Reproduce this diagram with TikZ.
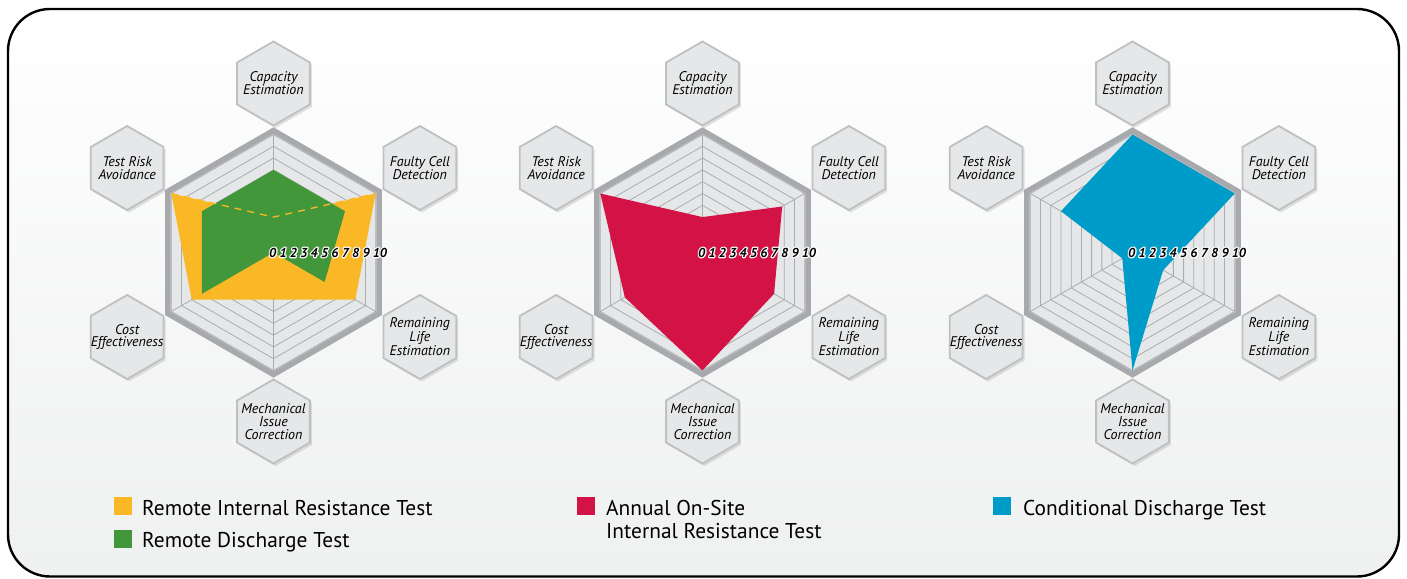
\documentclass[tikz,border=0pt]{standalone}
\usepackage{fontspec}
\setmainfont{PT Sans}
\usetikzlibrary{calc, positioning, shapes.geometric, shadows}
\definecolor{rirOrange}{RGB}{251,184,38}
\definecolor{rdGreen}{RGB}{67,151,59}
\definecolor{annRed}{RGB}{211,18,69}
\definecolor{cdBlue}{RGB}{0,156,201}
\definecolor{gridFill}{RGB}{230,231,232}
\definecolor{gridLine}{RGB}{170,172,175}
\definecolor{rimGray}{RGB}{167,169,172}
\definecolor{hexEdge}{RGB}{190,192,194}
\definecolor{panelBot}{RGB}{239,240,240}
\tikzset{
    gridRing/.style={draw=gridLine, line width=0.8pt},
    rimLine/.style={draw=rimGray, line width=5.5pt, line join=miter},
    labelHex/.style={regular polygon, regular polygon sides=6, shape border rotate=30, minimum size=84pt, inner sep=0pt, fill=gridFill, draw=hexEdge, line width=1.8pt, drop shadow={shadow xshift=2pt, shadow yshift=-2.5pt, opacity=0.22}},
    labelText/.style={inner sep=0pt, align=center, font=\fontsize{14}{12.8}\selectfont\itshape},
    scaleNum/.style={anchor=west, inner sep=0pt, font=\fontsize{13}{13}\selectfont\bfseries\itshape},
    legendBox/.style={anchor=north west, minimum size=18pt, inner sep=0pt},
    legendText/.style={anchor=base west, inner sep=0pt, font=\fontsize{21.4}{23}\selectfont},
    hiddenEdge/.style={draw=rirOrange, line width=1.3pt, dash pattern=on 7pt off 6pt},
}
\newcommand{\drawRadar}[1]{
    \begin{scope}[shift={(#1)}]
        \fill[gridFill] (90:122) -- (30:122) -- (-30:122) -- (-90:122) -- (210:122) -- (150:122) -- cycle;
        \foreach \r in {1,...,10}
            \draw[gridRing] (90:{\r*11.8}) -- (30:{\r*11.8}) -- (-30:{\r*11.8}) -- (-90:{\r*11.8}) -- (210:{\r*11.8}) -- (150:{\r*11.8}) -- cycle;
        \foreach \a in {90,30,-30,-90,210,150}
            \draw[gridRing] (0,0) -- (\a:118);
    \end{scope}
}
\newcommand{\drawScore}[8][]{
    \fill[#1, shift={(#2)}] (90:{#3*11.8}) -- (30:{#4*11.8}) -- (-30:{#5*11.8}) -- (-90:{#6*11.8}) -- (210:{#7*11.8}) -- (150:{#8*11.8}) -- cycle;
}
\newcommand{\scaleRow}{\foreach \k in {0,...,9}{\makebox[10.37pt][l]{\k}}10}
\newcommand{\drawRim}[1]{
    \draw[rimLine, shift={(#1)}] (90:122) -- (30:122) -- (-30:122) -- (-90:122) -- (210:122) -- (150:122) -- cycle;
    % white halo under the scale digits
    \node[scaleNum, text=white] (#1halo) at ($(#1)+(-4.5,0)$) {\special{pdf:literal direct 1 Tr 2.4 w 1 j}\scaleRow\special{pdf:literal direct 0 Tr}};
    \node[scaleNum] (#1scale) at ($(#1)+(-4.5,0)$) {\scaleRow};
}
\newcommand{\labelNode}[4]{
    \node[labelHex] (#1) at ($(#2)+(#3:169)$) {};
    \node[labelText] (#1txt) at (#1) {#4};
}
\newcommand{\labelSet}[2]{
    \labelNode{cap#2}{#1}{90}{Capacity\\Estimation}
    \labelNode{cell#2}{#1}{30}{Faulty Cell\\Detection}
    \labelNode{life#2}{#1}{-30}{Remaining\\Life\\Estimation}
    \labelNode{mech#2}{#1}{-90}{Mechanical\\Issue\\Correction}
    \labelNode{cost#2}{#1}{210}{Cost\\Effectiveness}
    \labelNode{risk#2}{#1}{150}{Test Risk\\Avoidance}
}
\begin{document}
\begin{tikzpicture}[x=1pt, y=1pt]
    \useasboundingbox (0,0) rectangle (1407,578);

    % panel
    \shade[top color=white, bottom color=panelBot, rounded corners=42pt] (8,1.5) rectangle (1399,569);
    \draw[line width=2.4pt, rounded corners=42pt] (8,1.5) rectangle (1399,569);

    \coordinate (rA) at (273.5,325.5);
    \coordinate (rB) at (702.5,325.5);
    \coordinate (rC) at (1132.5,325.5);

    % remote tests
    \drawRadar{rA}
    \drawScore[rirOrange]{rA}{3}{10}{8}{4}{8}{10}
    \drawScore[rdGreen]{rA}{7}{7}{5}{0}{7}{7}
    \draw[hiddenEdge, shift={(rA)}] (150:118) -- (90:{3*11.8}) -- (30:118);
    \drawRim{rA}
    \labelSet{rA}{A}

    % annual on-site test
    \drawRadar{rB}
    \drawScore[annRed]{rB}{3}{7.8}{7}{10}{7.6}{10}
    \drawRim{rB}
    \labelSet{rB}{B}

    % conditional discharge test
    \drawRadar{rC}
    \drawScore[cdBlue]{rC}{10}{10}{3}{10}{1}{7}
    \drawRim{rC}
    \labelSet{rC}{C}

    % legend
    \node[legendBox, fill=rirOrange] (keyRir) at (114,81) {};
    \node[legendText] (txtRir) at (142,63) {Remote Internal Resistance Test};
    \node[legendBox, fill=rdGreen] (keyRd) at (114,48) {};
    \node[legendText] (txtRd) at (142,30.3) {Remote Discharge Test};
    \node[legendBox, fill=annRed] (keyAnn) at (576.5,81) {};
    \node[legendText] (txtAnn) at (606,63) {Annual On-Site};
    \node[legendText] (txtAnnB) at (606,39.7) {Internal Resistance Test};
    \node[legendBox, fill=cdBlue] (keyCd) at (993,81) {};
    \node[legendText] (txtCd) at (1023,63) {Conditional Discharge Test};

\end{tikzpicture}
\end{document}
